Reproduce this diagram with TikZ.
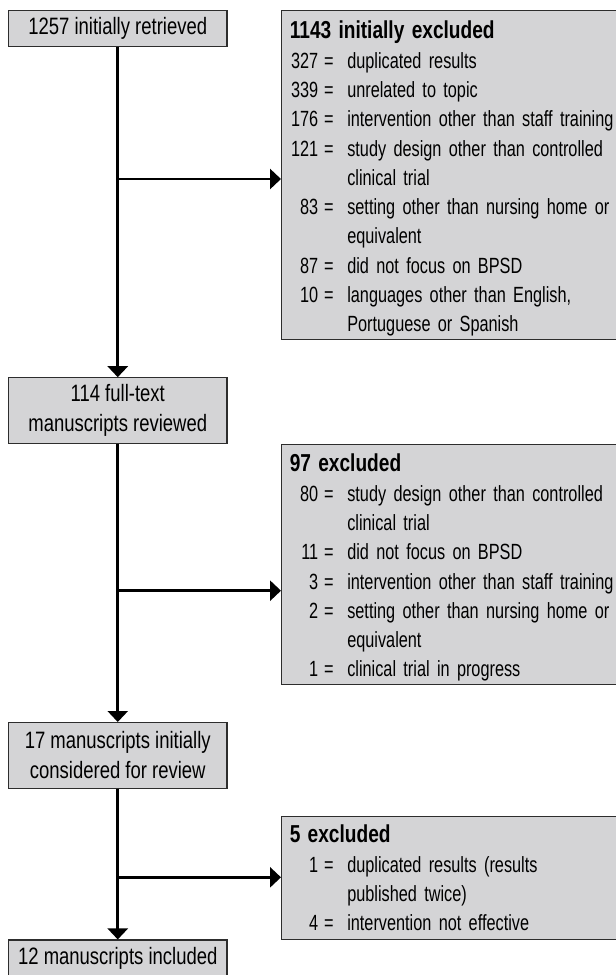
\documentclass[tikz,border=0pt]{standalone}
\usepackage{fontspec}
\setmainfont{Liberation Sans}[FakeStretch=0.78]
\newfontfamily\itemfont{Liberation Sans}[FakeStretch=0.74]
\usetikzlibrary{arrows.meta}
\definecolor{boxfill}{RGB}{212,212,214}
\definecolor{boxline}{RGB}{45,45,45}
\newcommand\extitle[1]{{\normalfont\fontsize{24.5}{29.3}\selectfont\bfseries #1}}
\newcommand\exitem[2]{\par\noindent\hangindent=57.5pt\hangafter=1\makebox[28.4pt][r]{#1}\makebox[29.1pt][l]{\hspace{6pt}=}#2}
\begin{document}
\begin{tikzpicture}[x=1pt,y=-1pt,
  flowbox/.style={draw=boxline,line width=1.1pt,fill=boxfill,minimum width=218.5pt,inner sep=0pt,align=center,font=\fontsize{23.7}{30}\selectfont},
  exbox/.style={draw=boxline,line width=1.1pt,fill=boxfill,anchor=north west,minimum width=345pt,inner sep=0pt},
  extext/.style={anchor=base west,text width=420pt,align=left,inner sep=0pt,font=\itemfont\fontsize{22}{29.3}\selectfont},
  arr/.style={line width=2.9pt,-{Triangle[length=11pt,width=20pt]}}]
\useasboundingbox (0,0) rectangle (616,975);

\node[flowbox,minimum height=35.5pt] (b1) at (117.75,28.5) {1257 initially retrieved};
\node[flowbox,minimum height=65.5pt] (b2) at (117.75,410.5) {114 full-text\\manuscripts reviewed};
\node[flowbox,minimum height=65.5pt] (b3) at (117.75,755.3) {17 manuscripts initially\\considered for review};
\node[flowbox,minimum height=36pt] (b4) at (117.75,958) {12 manuscripts included};

\node[exbox,minimum height=329pt] (r1) at (281,10.3) {};
\node[extext] (t1) at (289.6,38.8) {\extitle{1143 initially excluded}
\exitem{327}{duplicated results}
\exitem{339}{unrelated to topic}
\exitem{176}{intervention other than staff training}
\exitem{121}{study design other than controlled\newline clinical trial}
\exitem{83}{setting other than nursing home or\newline equivalent}
\exitem{87}{did not focus on BPSD}
\exitem{10}{languages other than English,\newline Portuguese or Spanish}\par};

\node[exbox,minimum height=240.6pt] (r2) at (281,443.7) {};
\node[extext] (t2) at (289.6,471.8) {\extitle{97 excluded}
\exitem{80}{study design other than controlled\newline clinical trial}
\exitem{11}{did not focus on BPSD}
\exitem{3}{intervention other than staff training}
\exitem{2}{setting other than nursing home or\newline equivalent}
\exitem{1}{clinical trial in progress}\par};

\node[exbox,minimum height=123.6pt] (r3) at (281,815.7) {};
\node[extext] (t3) at (289.6,842.8) {\extitle{5 excluded}
\exitem{1}{duplicated results (results\newline published twice)}
\exitem{4}{intervention not effective}\par};

\coordinate (j1) at (117.75,179);
\coordinate (j2) at (117.75,590.7);
\coordinate (j3) at (117.75,877.3);

\draw[arr] (b1.south) -- (b2.north);
\draw[arr] (b2.south) -- (b3.north);
\draw[arr] (b3.south) -- (b4.north);
\draw[arr] (j1) -- (j1 -| r1.west);
\draw[arr] (j2) -- (j2 -| r2.west);
\draw[arr] (j3) -- (j3 -| r3.west);
\end{tikzpicture}
\end{document}
